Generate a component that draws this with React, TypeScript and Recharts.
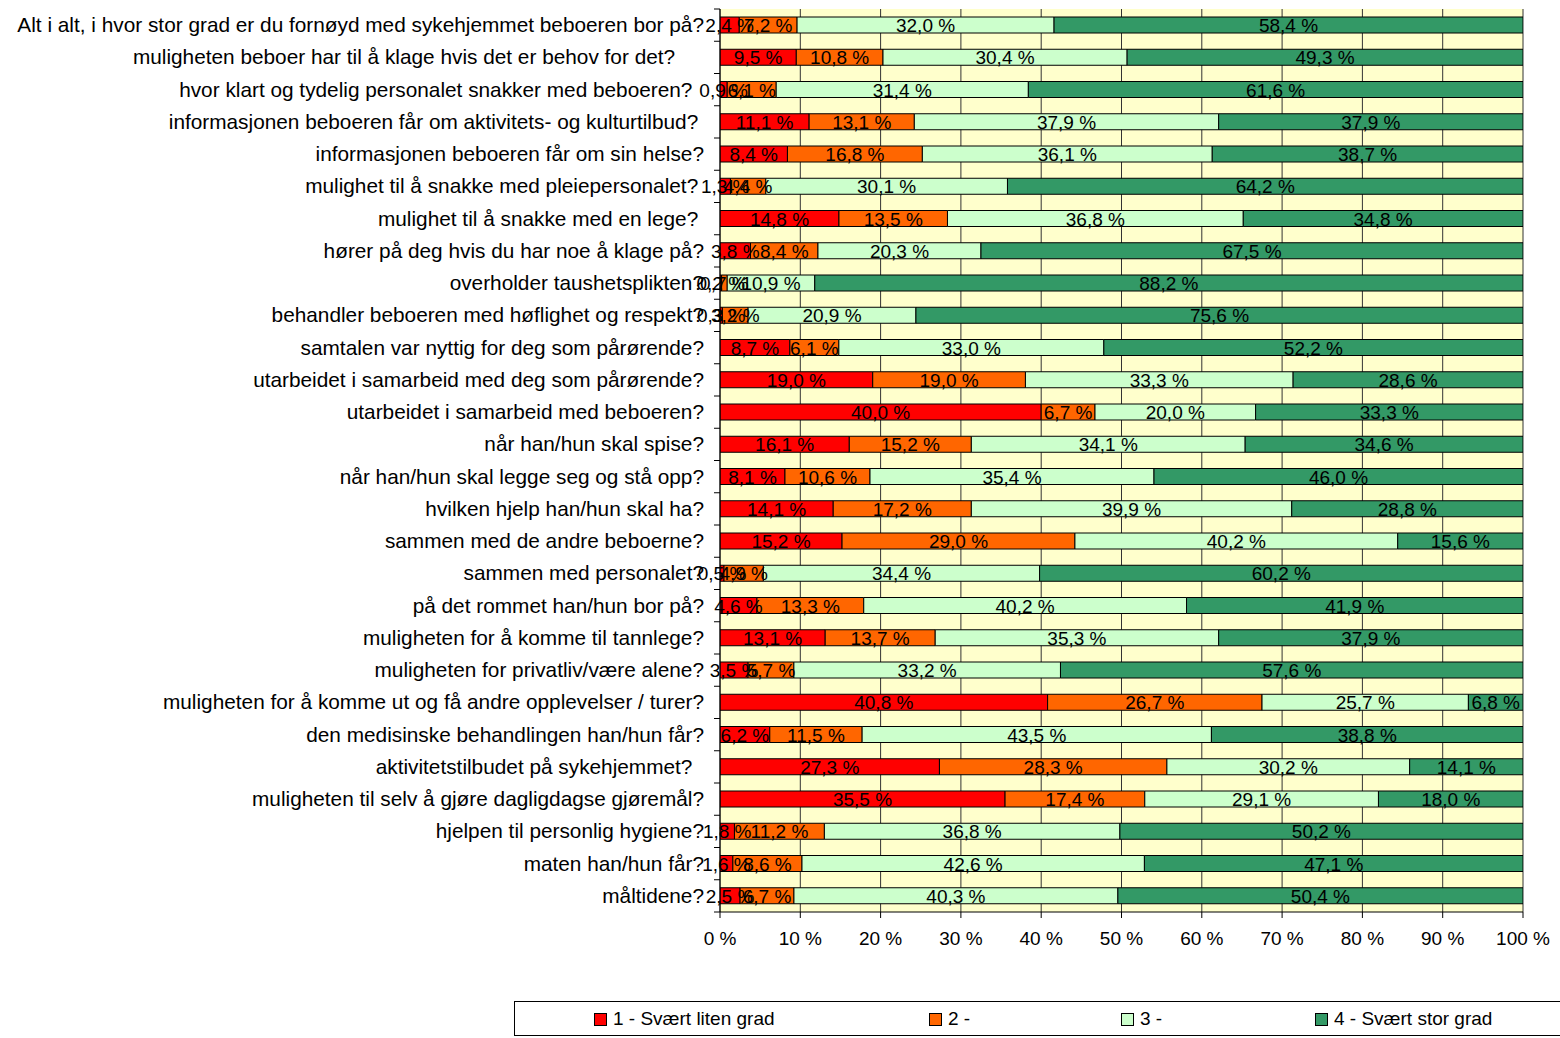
import React from 'react';
import { BarChart, Bar, XAxis, YAxis, CartesianGrid, LabelList, Legend } from 'recharts';

const categories = [
  'Alt i alt, i hvor stor grad er du fornøyd med sykehjemmet beboeren bor på?',
  'muligheten beboer har til å klage hvis det er behov for det?     ',
  'hvor klart og tydelig personalet snakker med beboeren?  ',
  'informasjonen beboeren får om aktivitets- og kulturtilbud? ',
  'informasjonen beboeren får om sin helse?',
  'mulighet til å snakke med pleiepersonalet? ',
  'mulighet til å snakke med en lege? ',
  'hører på deg hvis du har noe å klage på?',
  'overholder taushetsplikten?',
  'behandler beboeren med høflighet og respekt?',
  'samtalen var nyttig for deg som pårørende?',
  'utarbeidet i samarbeid med deg som pårørende?',
  'utarbeidet i samarbeid med beboeren?',
  'når han/hun skal spise?',
  'når han/hun skal legge seg og stå opp?',
  'hvilken hjelp han/hun skal ha?',
  'sammen med de andre beboerne?',
  'sammen med personalet?',
  'på det rommet han/hun bor på?',
  'muligheten for å komme til tannlege?',
  'muligheten for privatliv/være alene?',
  'muligheten for å komme ut og få andre opplevelser / turer?',
  'den medisinske behandlingen han/hun får?',
  'aktivitetstilbudet på sykehjemmet?  ',
  'muligheten til selv å gjøre dagligdagse gjøremål?',
  'hjelpen til personlig hygiene?',
  'maten han/hun får?',
  'måltidene?',
];

const grade1 = [2.4, 9.5, 0.9, 11.1, 8.4, 1.3, 14.8, 3.8, 0.2, 0.3, 8.7, 19.0, 40.0, 16.1, 8.1, 14.1, 15.2, 0.5, 4.6, 13.1, 3.5, 40.8, 6.2, 27.3, 35.5, 1.8, 1.6, 2.5];
const grade2 = [7.2, 10.8, 6.1, 13.1, 16.8, 4.4, 13.5, 8.4, 0.7, 3.2, 6.1, 19.0, 6.7, 15.2, 10.6, 17.2, 29.0, 4.9, 13.3, 13.7, 5.7, 26.7, 11.5, 28.3, 17.4, 11.2, 8.6, 6.7];
const grade3 = [32.0, 30.4, 31.4, 37.9, 36.1, 30.1, 36.8, 20.3, 10.9, 20.9, 33.0, 33.3, 20.0, 34.1, 35.4, 39.9, 40.2, 34.4, 40.2, 35.3, 33.2, 25.7, 43.5, 30.2, 29.1, 36.8, 42.6, 40.3];
const grade4 = [58.4, 49.3, 61.6, 37.9, 38.7, 64.2, 34.8, 67.5, 88.2, 75.6, 52.2, 28.6, 33.3, 34.6, 46.0, 28.8, 15.6, 60.2, 41.9, 37.9, 57.6, 6.8, 38.8, 14.1, 18.0, 50.2, 47.1, 50.4];

const seriesNames = ['1 - Svært liten grad', '2 -', '3 -', '4 - Svært stor grad'];
const seriesKeys = ['g1', 'g2', 'g3', 'g4'];
const seriesColors = ['#FF0000', '#FF6600', '#CCFFCC', '#339966'];
const xTicks = [0, 10, 20, 30, 40, 50, 60, 70, 80, 90, 100];

// 100 % stacked: each row is normalised to its total, labels keep the raw values
const data = categories.map((name, i) => {
  const raw = [grade1[i], grade2[i], grade3[i], grade4[i]];
  const total = raw.reduce((a, b) => a + b, 0);
  const row: any = { name };
  raw.forEach((v, j) => {
    row[seriesKeys[j]] = v;
    row['n' + seriesKeys[j]] = (v / total) * 100;
  });
  return row;
});

const FONT = '"Liberation Sans", Arial, sans-serif';
const PLOT_TOP = 9;
const PLOT_BOTTOM = 912;
const BAND = (PLOT_BOTTOM - PLOT_TOP) / categories.length;

const fmtPct = (v: any) => `${Number(v).toFixed(1).replace('.', ',')} %`;

const BarValueLabel = (props: any) => {
  const { x, y, width, height, value } = props;
  return (
    <text
      x={Number(x) + Number(width) / 2}
      y={Number(y) + Number(height) / 2}
      dy={7}
      textAnchor="middle"
      fill="#000"
      fontSize={19}
      fontFamily={FONT}
      style={{ whiteSpace: 'pre' }}
    >
      {fmtPct(value)}
    </text>
  );
};

const CategoryTick = (props: any) => {
  const { x, y, payload, index } = props;
  const axisX = x + 16;
  const half = BAND / 2;
  return (
    <g>
      <text
        x={x}
        y={y}
        dy={7}
        textAnchor="end"
        fill="#000"
        fontSize={20.8}
        fontFamily={FONT}
        style={{ whiteSpace: 'pre' }}
      >
        {payload.value}
      </text>
      <line x1={axisX - 6} x2={axisX} y1={y - half} y2={y - half} stroke="#000" strokeWidth={1} />
      {index === categories.length - 1 && (
        <line x1={axisX - 6} x2={axisX} y1={y + half} y2={y + half} stroke="#000" strokeWidth={1} />
      )}
    </g>
  );
};

const legendOffsets = [79, 414, 606, 800];

const LegendContent = () => (
  <div
    style={{
      position: 'relative',
      width: 1060,
      height: 35,
      border: '1px solid #000',
      boxSizing: 'border-box',
      background: '#fff',
      fontFamily: FONT,
      fontSize: 19,
    }}
  >
    {seriesNames.map((n, i) => (
      <div
        key={n}
        style={{ position: 'absolute', left: legendOffsets[i], top: 6, display: 'flex', alignItems: 'center', whiteSpace: 'nowrap' }}
      >
        <span
          style={{
            display: 'inline-block',
            width: 11,
            height: 11,
            background: seriesColors[i],
            border: '1px solid #000',
            marginRight: 6,
          }}
        />
        <span style={{ color: '#000' }}>{n}</span>
      </div>
    ))}
  </div>
);

export default function App() {
  return (
    <div style={{ position: 'absolute', left: 0, top: 0, width: 1560, height: 1038, background: '#fff', overflow: 'hidden' }}>
      <BarChart
        width={1560}
        height={1038}
        data={data}
        layout="vertical"
        barSize={16}
        margin={{ top: PLOT_TOP, right: 37, bottom: 86, left: 0 }}
        style={{ fontFamily: FONT }}
      >
        <CartesianGrid horizontal={false} vertical={true} stroke="#333" fill="#FFFFCC" strokeWidth={1} />
        <XAxis
          type="number"
          domain={[0, 100]}
          allowDataOverflow
          ticks={xTicks}
          tickFormatter={(v: number) => `${v} %`}
          axisLine={{ stroke: '#000' }}
          tickLine={{ stroke: '#000' }}
          tickSize={6}
          tickMargin={14}
          height={40}
          tick={{ fill: '#000', fontSize: 19, fontFamily: FONT }}
          interval={0}
        />
        <XAxis
          xAxisId="top"
          orientation="top"
          type="number"
          domain={[0, 100]}
          tick={false}
          tickLine={false}
          axisLine={{ stroke: '#808080' }}
          height={0}
        />
        <YAxis
          type="category"
          dataKey="name"
          width={720}
          axisLine={{ stroke: '#000' }}
          tickLine={false}
          tickSize={0}
          tickMargin={16}
          interval={0}
          tick={<CategoryTick />}
        />
        {seriesKeys.map((k, i) => (
          <Bar
            key={k}
            dataKey={'n' + k}
            name={seriesNames[i]}
            stackId="a"
            fill={seriesColors[i]}
            stroke="#000"
            strokeWidth={1}
            isAnimationActive={false}
          >
            <LabelList dataKey={k} position="center" content={<BarValueLabel />} />
          </Bar>
        ))}
        <Legend
          layout="horizontal"
          verticalAlign="middle"
          align="center"
          content={<LegendContent />}
          wrapperStyle={{ position: 'absolute', left: 514, top: 1001, width: 1060, height: 35 }}
        />
      </BarChart>
    </div>
  );
}
